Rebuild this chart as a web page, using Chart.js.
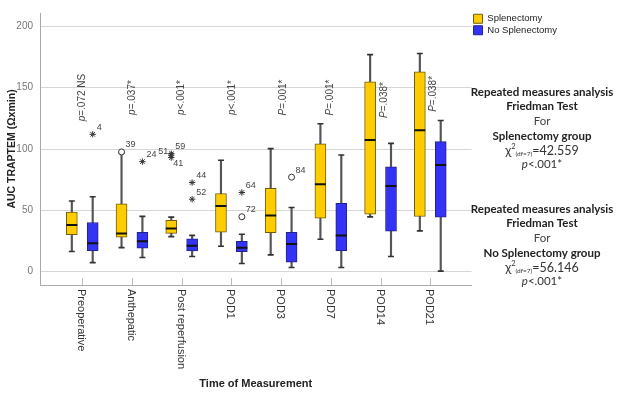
<!DOCTYPE html>
<html>
<head>
<meta charset="utf-8">
<script src="https://cdn.jsdelivr.net/npm/chart.js@4.4.0/dist/chart.umd.min.js"></script>
<style>
  html, body { margin: 0; padding: 0; background: #fff; }
  #wrap { width: 619px; height: 393px; position: relative; }
</style>
</head>
<body>
<div id="wrap"><canvas id="boxChart"></canvas></div>
<script>
const timePoints = ['Preoperative', 'Anthepatic', 'Post reperfusion', 'POD1', 'POD3', 'POD7', 'POD14', 'POD21'];
const yTicks = [0, 50, 100, 150, 200];

// each row: [lower whisker, Q1, median, Q3, upper whisker]
const splenectomy = [
  [16.3, 30, 38, 48.5, 57.5],
  [19.5, 28, 31, 55.3, 96.5],
  [28.5, 31.2, 35.2, 41.7, 44.4],
  [20.6, 32.2, 53.4, 63.7, 90.8],
  [13.6, 31.7, 45.8, 67.8, 100.3],
  [26.3, 43.6, 71.3, 104.3, 120.6],
  [44.6, 46.8, 107.3, 154.9, 177],
  [33.2, 44.9, 115.4, 163, 178]
];
const noSplenectomy = [
  [7.3, 17, 23, 40, 61],
  [11.4, 19, 24.7, 32, 45],
  [12.2, 16.8, 21, 26.6, 29.5],
  [6.5, 16.3, 19.5, 24.7, 30.4],
  [3.3, 7.6, 22.5, 32, 52.3],
  [3.3, 17, 29.5, 55.6, 95.1],
  [12.2, 33, 69.7, 85.4, 104.6],
  [0.3, 44.3, 87, 106, 123.2]
];

// outliers: category index, value, case id, marker
const splenectomyOutliers = [
  { cat: 1, value: 97.6, id: '39', mark: 'circle' },
  { cat: 2, value: 96.2, id: '59', mark: 'star' },
  { cat: 2, value: 95, id: '51', mark: 'star' },
  { cat: 2, value: 93, id: '41', mark: 'star' }
];
const noSplenectomyOutliers = [
  { cat: 0, value: 112, id: '4', mark: 'star' },
  { cat: 1, value: 89.7, id: '24', mark: 'star' },
  { cat: 2, value: 72.6, id: '44', mark: 'star' },
  { cat: 2, value: 59, id: '52', mark: 'star' },
  { cat: 3, value: 64.5, id: '64', mark: 'star' },
  { cat: 3, value: 44.7, id: '72', mark: 'circle' },
  { cat: 4, value: 77, id: '84', mark: 'circle' }
];

const pValues = ['=.072 NS', '=.037*', '<.001*', '<.001*', '=.001*', '=.001*', '=.038*', '=.038*'];
const pLetters = ['p', 'p', 'p', 'p', 'P', 'P', 'P', 'P'];

const statsHeading = ['Repeated measures analysis', 'Friedman Test', 'For'];
const statsGroups = ['Splenectomy group', 'No Splenectomy group'];
const chiValues = ['42.559', '56.146'];

const YELLOW = '#ffcc00';
const BLUE = '#3333f5';
const shift = 0.21;
const FONT = "'Liberation Sans', Arial, sans-serif";
Chart.defaults.font.family = FONT;

const boxes = (rows, off) => rows.map((r, i) => ({ x: i + off, y: [r[1], r[3]] }));
const whiskers = (rows, off) => rows.map((r, i) => ({ x: i + off, y: [r[0], r[4]] }));
const medians = (rows, off) => rows.map((r, i) => ({ x: i + off, y: r[2] }));
const caps = (rows, off) => rows.flatMap((r, i) => [{ x: i + off, y: r[0] }, { x: i + off, y: r[4] }]);
const outPts = (list, off) => list.map(o => ({ x: o.cat + off, y: o.value, id: o.id, mark: o.mark }));

const annotate = {
  id: 'annotate',
  afterDraw(chart) {
    const { ctx, chartArea, scales: { x, y } } = chart;
    ctx.save();

    // category ticks + labels (reading downwards)
    timePoints.forEach((label, i) => {
      const px = Math.round(x.getPixelForValue(i)) + 0.5;
      ctx.strokeStyle = '#bbb';
      ctx.lineWidth = 1;
      ctx.beginPath();
      ctx.moveTo(px, chartArea.bottom - 7);
      ctx.lineTo(px, chartArea.bottom);
      ctx.stroke();
      ctx.save();
      ctx.translate(px - 1, chartArea.bottom + 4);
      ctx.rotate(Math.PI / 2);
      ctx.fillStyle = '#333';
      ctx.font = '11px ' + FONT;
      ctx.textAlign = 'left';
      ctx.textBaseline = 'middle';
      ctx.fillText(label, 0, 0);
      ctx.restore();
    });

    // p-values, rotated
    const pAt = [142, 142, 142, 142, 142, 142, 140, 145];
    const pOff = [0, 0, 0, 0.01, 0.04, -0.02, 0.08, 0.06];
    pValues.forEach((txt, i) => {
      ctx.save();
      ctx.translate(x.getPixelForValue(i + pOff[i]), y.getPixelForValue(pAt[i]));
      ctx.rotate(-Math.PI / 2);
      ctx.fillStyle = '#444';
      ctx.textBaseline = 'middle';
      ctx.textAlign = 'left';
      ctx.font = 'italic 10px ' + FONT;
      const w1 = ctx.measureText(pLetters[i]).width;
      ctx.font = '10px ' + FONT;
      const w2 = ctx.measureText(txt).width;
      let sx = -(w1 + w2) / 2;
      ctx.font = 'italic 10px ' + FONT;
      ctx.fillText(pLetters[i], sx, 0);
      ctx.font = '10px ' + FONT;
      ctx.fillText(txt, sx + w1, 0);
      ctx.restore();
    });

    // outlier case ids
    ctx.font = '9px ' + FONT;
    ctx.fillStyle = '#444';
    ctx.textBaseline = 'middle';
    const labelOut = (list, off) => list.forEach(o => {
      const px = x.getPixelForValue(o.cat + off);
      const py = y.getPixelForValue(o.value);
      if (o.id === '51') { ctx.textAlign = 'right'; ctx.fillText(o.id, px - 3, py - 4); }
      else if (o.id === '41') { ctx.textAlign = 'left'; ctx.fillText(o.id, px + 2, py + 6); }
      else { ctx.textAlign = 'left'; ctx.fillText(o.id, px + 4, py - 7); }
    });
    labelOut(splenectomyOutliers, -shift);
    labelOut(noSplenectomyOutliers, shift);

    // Friedman test blocks
    const cx = 542;
    const SF = "Lato, 'Open Sans', sans-serif";
    const block = (top, g) => {
      ctx.textAlign = 'center';
      ctx.textBaseline = 'middle';
      ctx.fillStyle = '#222';
      ctx.font = 'bold 11.5px ' + SF;
      ctx.fillText(statsHeading[0], cx, top);
      ctx.fillText(statsHeading[1], cx, top + 14);
      ctx.font = '11.5px ' + SF;
      ctx.fillStyle = '#444';
      ctx.fillText(statsHeading[2], cx, top + 29);
      ctx.font = 'bold 11.5px ' + SF;
      ctx.fillStyle = '#222';
      ctx.fillText(statsGroups[g], cx, top + 44);
      // chi-square line
      const parts = [
        { t: 'χ', f: '12.5px ' + SF, dy: 0 },
        { t: '2', f: '7.5px ' + SF, dy: -4 },
        { t: '(df=7)', f: '6.5px ' + SF, dy: 3 },
        { t: '=' + chiValues[g], f: '12.5px ' + SF, dy: 0 }
      ];
      let tw = 0;
      parts.forEach(p => { ctx.font = p.f; p.w = ctx.measureText(p.t).width; tw += p.w; });
      let sx = cx - tw / 2;
      ctx.textAlign = 'left';
      ctx.fillStyle = '#333';
      parts.forEach(p => { ctx.font = p.f; ctx.fillText(p.t, sx, top + 59 + p.dy); sx += p.w; });
      // p line
      ctx.font = 'italic 11.5px ' + SF;
      const wp = ctx.measureText('p').width;
      ctx.font = '11.5px ' + SF;
      const wr = ctx.measureText('<.001*').width;
      sx = cx - (wp + wr) / 2;
      ctx.font = 'italic 11.5px ' + SF;
      ctx.fillText('p', sx, top + 72);
      ctx.font = '11.5px ' + SF;
      ctx.fillText('<.001*', sx + wp, top + 72);
    };
    block(92, 0);
    block(209, 1);

    ctx.restore();
  }
};

const ctx = document.getElementById('boxChart').getContext('2d');
new Chart(ctx, {
  type: 'bar',
  data: {
    datasets: [
      {
        label: 'Splenectomy',
        data: boxes(splenectomy, -shift),
        backgroundColor: YELLOW,
        borderColor: '#6e5c12',
        borderWidth: 1,
        borderSkipped: false,
        barThickness: 11,
        grouped: false,
        order: 4
      },
      {
        label: 'No Splenectomy',
        data: boxes(noSplenectomy, shift),
        backgroundColor: BLUE,
        borderColor: '#22228a',
        borderWidth: 1,
        borderSkipped: false,
        barThickness: 11,
        grouped: false,
        order: 4
      },
      {
        label: 'whiskers',
        data: whiskers(splenectomy, -shift).concat(whiskers(noSplenectomy, shift)),
        backgroundColor: '#555',
        borderWidth: 0,
        barThickness: 1.5,
        grouped: false,
        order: 6
      },
      {
        type: 'scatter',
        label: 'caps',
        data: caps(splenectomy, -shift).concat(caps(noSplenectomy, shift)),
        pointStyle: 'line',
        pointRadius: 3,
        borderColor: '#333',
        borderWidth: 1.6,
        order: 5
      },
      {
        type: 'scatter',
        label: 'medians',
        data: medians(splenectomy, -shift).concat(medians(noSplenectomy, shift)),
        pointStyle: 'line',
        pointRadius: 5.5,
        borderColor: '#111',
        borderWidth: 2,
        order: 2
      },
      {
        type: 'scatter',
        label: 'outliers',
        data: outPts(splenectomyOutliers, -shift).concat(outPts(noSplenectomyOutliers, shift)),
        pointStyle: c => c.raw ? c.raw.mark : 'circle',
        pointRadius: c => (c.raw && c.raw.mark === 'circle') ? 3 : 3.2,
        backgroundColor: '#fff',
        borderColor: '#333',
        borderWidth: 1,
        order: 1
      }
    ]
  },
  options: {
    responsive: true,
    maintainAspectRatio: false,
    animation: false,
    events: [],
    layout: { padding: { top: 12, right: 52, left: 0, bottom: 0 } },
    plugins: {
      tooltip: { enabled: false },
      legend: {
        position: 'right',
        align: 'start',
        labels: {
          filter: item => item.datasetIndex < 2,
          boxWidth: 9,
          boxHeight: 9,
          padding: 2,
          color: '#222',
          font: { size: 9.5 }
        }
      }
    },
    scales: {
      x: {
        type: 'linear',
        min: -0.85,
        max: 7.83,
        offset: false,
        grid: { display: false },
        ticks: { display: false },
        border: { display: true, color: '#aaa' },
        title: {
          display: true,
          text: 'Time of Measurement',
          color: '#222',
          font: { size: 11, weight: 'bold' },
          padding: { top: 0, bottom: 2 }
        },
        afterFit: s => { s.height = 108; }
      },
      y: {
        min: -11,
        max: 211,
        afterBuildTicks: s => { s.ticks = yTicks.map(v => ({ value: v })); },
        grid: { color: '#d6d6d6', drawTicks: false },
        border: { display: true, color: '#aaa' },
        ticks: { color: '#777', font: { size: 10 }, padding: 7 },
        title: {
          display: true,
          text: 'AUC TRAPTEM (Ωxmin)',
          color: '#222',
          font: { size: 10.5, weight: 'bold' },
          padding: { top: 6, bottom: 0 }
        },
        afterFit: s => { s.width = 40; }
      }
    }
  },
  plugins: [annotate]
});
</script>
</body>
</html>
